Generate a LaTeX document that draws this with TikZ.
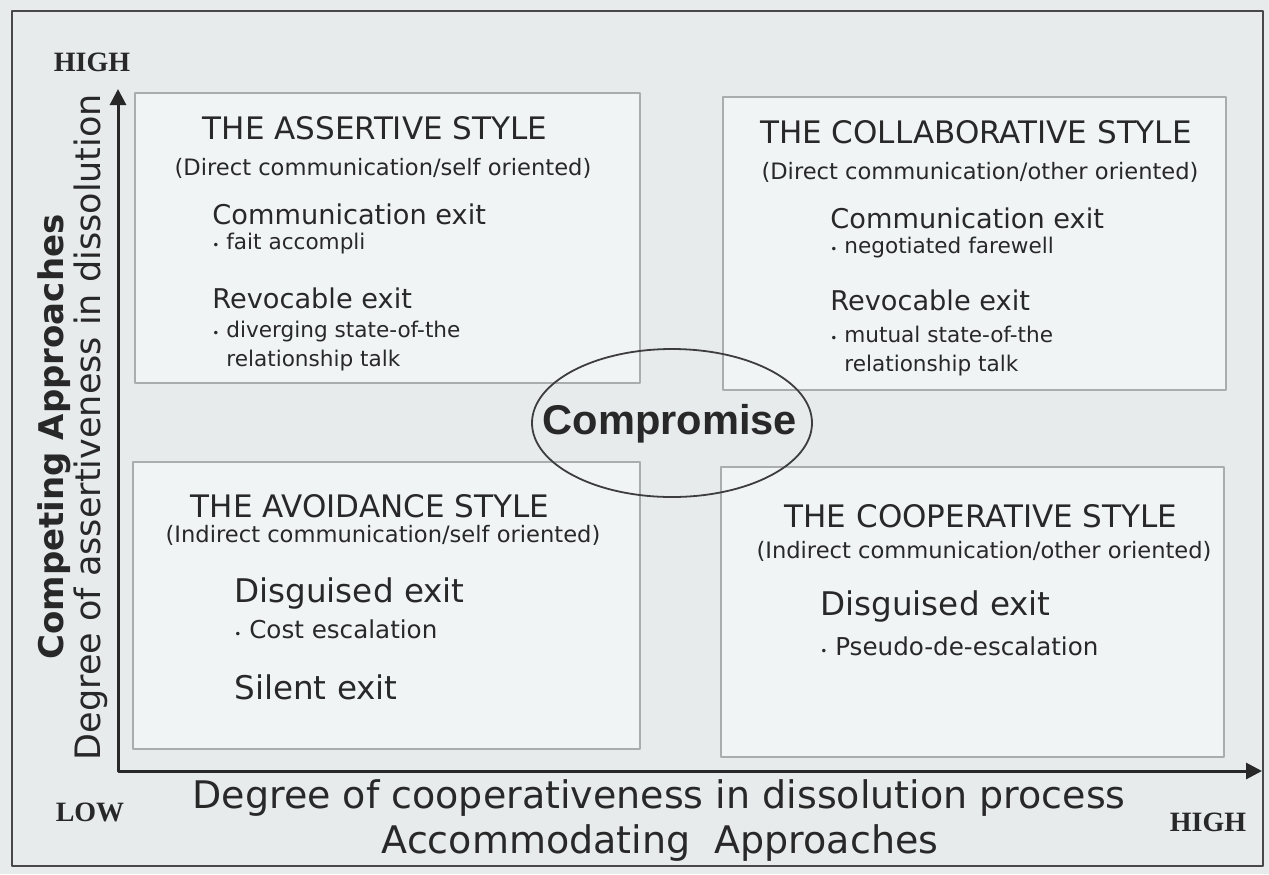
\documentclass[tikz,border=0pt]{standalone}
\usepackage{fontspec}
\setmainfont{DejaVu Sans}
\newfontfamily\arialfont{Liberation Sans}
\newfontfamily\timesfont{Liberation Serif}
\usepackage{tikz}
\usetikzlibrary{arrows.meta}

\newcommand{\itm}{{\fontsize{6}{6}\selectfont\textbullet}\ }

\begin{document}
\begin{tikzpicture}[x=0.5pt, y=-0.5pt, line join=round, >={Triangle[length=8pt, width=8pt]},
  stylebox/.style={draw=boxEdge, fill=boxFill, line width=0.8pt},
  boxtitle/.style={text=inkGray, inner sep=0pt, font=\fontsize{15.5}{18}\selectfont},
  boxsub/.style={text=inkGray, inner sep=0pt, font=\fontsize{11.3}{13}\selectfont},
  exitname/.style={text=inkGray, inner sep=0pt, anchor=west, font=\fontsize{13.6}{16}\selectfont},
  exititem/.style={text=inkGray, inner sep=0pt, anchor=west, align=left, font=\fontsize{10.8}{14.5}\selectfont},
  bigexit/.style={exitname, font=\fontsize{16.3}{19}\selectfont},
  bigitem/.style={exititem, font=\fontsize{12.3}{15}\selectfont},
  axisname/.style={text=inkGray, inner sep=0pt, font=\fontsize{19}{22}\selectfont},
  levelmark/.style={text=inkGray, inner sep=0pt, font=\timesfont\bfseries\fontsize{14}{16}\selectfont}]

  % Colors (scanned paper look)
  \definecolor{paperGray}{RGB}{231,235,236}
  \definecolor{boxFill}{RGB}{241,244,245}
  \definecolor{boxEdge}{RGB}{170,173,174}
  \definecolor{inkGray}{RGB}{40,40,40}

  % Paper and outer frame
  \fill[paperGray] (0,0) rectangle (1269,874);
  \useasboundingbox (0,0) rectangle (1269,874);
  \draw[inkGray!85, line width=1.3pt] (12,11) rectangle (1263,866);

  % Axes
  \coordinate (origin) at (118,771);
  \coordinate (yTip)   at (118,89);
  \coordinate (xTip)   at (1262,771);
  \draw[<->, inkGray, line width=1.5pt] (yTip) -- (origin) -- (xTip);

  % The four quadrants
  \draw[stylebox] (135,93)  rectangle (640,383);
  \draw[stylebox] (723,97)  rectangle (1226,390);
  \draw[stylebox] (133,462) rectangle (640,749);
  \draw[stylebox] (721,467) rectangle (1224,757);

  % Assertive style (top left)
  \node[boxtitle] (assertTitle) at (375,128) {THE ASSERTIVE STYLE};
  \node[boxsub]   (assertSub)   at (383,168) {(Direct communication/self oriented)};
  \node[exitname] (assertComm)  at (212,214) {Communication exit};
  \node[exititem] (assertCommItem)  at (212,244) {\itm fait accompli};
  \node[exitname] (assertRevoc) at (212,298) {Revocable exit};
  \node[exititem] (assertRevocItem) at (212,346) {\itm diverging state-of-the\\\phantom{\itm}relationship talk};

  % Collaborative style (top right)
  \node[boxtitle] (collabTitle) at (976,132) {THE COLLABORATIVE STYLE};
  \node[boxsub]   (collabSub)   at (980,172) {(Direct communication/other oriented)};
  \node[exitname] (collabComm)  at (830,218) {Communication exit};
  \node[exititem] (collabCommItem)  at (830,248) {\itm negotiated farewell};
  \node[exitname] (collabRevoc) at (830,300) {Revocable exit};
  \node[exititem] (collabRevocItem) at (830,351) {\itm mutual state-of-the\\\phantom{\itm}relationship talk};

  % Avoidance style (bottom left)
  \node[boxtitle] (avoidTitle) at (370,506) {THE AVOIDANCE STYLE};
  \node[boxsub]   (avoidSub)   at (383,535) {(Indirect communication/self oriented)};
  \node[bigexit]  (avoidDisg)  at (234,593) {Disguised exit};
  \node[bigitem]  (avoidDisgItem) at (234,629) {\itm Cost escalation};
  \node[bigexit]  (avoidSilent) at (234,687) {Silent exit};

  % Cooperative style (bottom right)
  \node[boxtitle] (coopTitle) at (981,516) {THE COOPERATIVE STYLE};
  \node[boxsub]   (coopSub)   at (984,551) {(Indirect communication/other oriented)};
  \node[bigexit]  (coopDisg)  at (820,606) {Disguised exit};
  \node[bigitem]  (coopDisgItem) at (820,646) {\itm Pseudo-de-escalation};

  % Compromise in the middle
  \draw[inkGray!90, line width=0.9pt] (672,423) ellipse[x radius=70pt, y radius=37pt];
  \node[text=inkGray, inner sep=0pt, font=\arialfont\bfseries\fontsize{20.8}{24}\selectfont]
    (compromise) at (670,424) {Compromise};

  % Axis names
  \node[axisname, rotate=90, font=\fontsize{17.5}{20}\selectfont] (yName) at (91,427)
    {Degree of assertiveness in dissolution};
  \node[axisname, rotate=90, font=\bfseries\fontsize{17}{20}\selectfont] (yApproach) at (54,437)
    {Competing Approaches};
  \node[axisname] (xName)     at (659,798) {Degree of cooperativeness in dissolution process};
  \node[axisname] (xApproach) at (660,843) {Accommodating\ \ Approaches};

  % Ends of the scales
  \node[levelmark] (yHigh) at (92,62)   {HIGH};
  \node[levelmark] (xLow)  at (90,812)  {LOW};
  \node[levelmark] (xHigh) at (1208,822) {HIGH};

\end{tikzpicture}
\end{document}
